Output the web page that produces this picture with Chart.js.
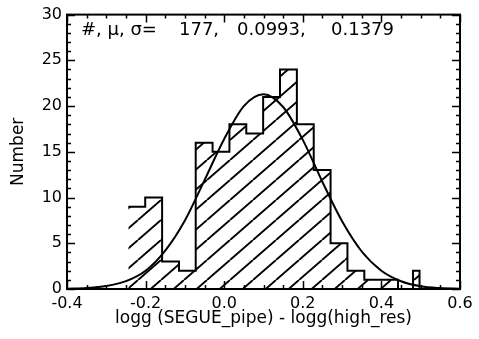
<!DOCTYPE html>
<html><head><meta charset="utf-8">
<script src="https://cdn.jsdelivr.net/npm/chart.js@4"></script>
<style>html,body{margin:0;padding:0;background:#fff;}</style>
</head><body>
<canvas id="c" width="479" height="339"></canvas>
<script>
// Histogram bin edges and counts
const binEdges = [-0.244, -0.201, -0.158, -0.115, -0.0725, -0.0296, 0.0133, 0.0562, 0.0991, 0.142, 0.1849, 0.2278, 0.2707, 0.3136, 0.3565, 0.3994, 0.4423, 0.4805, 0.497, 0.53];
const binCounts = [9, 10, 3, 2, 16, 15, 18, 17, 21, 24, 18, 13, 5, 2, 1, 1, 0, 2, 0];
// Gaussian fit curve, read at sample points
const fitX = [-0.40, -0.35, -0.30, -0.25, -0.20, -0.15, -0.10, -0.05, 0.00, 0.05, 0.10, 0.15, 0.20, 0.25, 0.30, 0.35, 0.40, 0.45, 0.50, 0.55, 0.60];
const fitY = [0.03, 0.1, 0.32, 0.86, 2.0, 4.2, 7.5, 11.9, 16.4, 20.0, 21.3, 19.9, 16.3, 11.7, 7.4, 4.1, 2.0, 0.85, 0.3, 0.1, 0.03];
// Axis ticks
const xTickValues = [-0.4, -0.2, 0.0, 0.2, 0.4, 0.6];
const yTickValues = [0, 5, 10, 15, 20, 25, 30];
const statsText = ['#, \u03bc, \u03c3=', '177,', '0.0993,', '0.1379'];
const xTitle = 'logg (SEGUE_pipe) - logg(high_res)';
const yTitle = 'Number';

function makeHatch() {
  const w = 23, h = 20;
  const c = document.createElement('canvas');
  c.width = w; c.height = h;
  const g = c.getContext('2d');
  g.strokeStyle = '#000';
  g.lineWidth = 1.9;
  for (const dx of [-w, 0, w]) {
    g.beginPath(); g.moveTo(dx, h); g.lineTo(dx + w, 0); g.stroke();
  }
  return g.createPattern(c, 'repeat');
}

const histPoints = binEdges.map((e, i) => ({x: e, y: i < binCounts.length ? binCounts[i] : binCounts[binCounts.length - 1]}));
const fitPoints = fitX.map((x, i) => ({x: x, y: fitY[i]}));

const FONT = 'DejaVu Sans';

const framePlugin = {
  id: 'frame',
  afterDraw(chart) {
    const ctx = chart.ctx;
    const a = chart.chartArea;
    const xs = chart.scales.x, ys = chart.scales.y;
    ctx.save();
    ctx.strokeStyle = '#000';
    ctx.lineWidth = 2;
    ctx.strokeRect(a.left, a.top, a.right - a.left, a.bottom - a.top);
    ctx.lineWidth = 1.5;
    ctx.beginPath();
    for (let k = -8; k <= 12; k++) {
      const v = k * 0.05;
      const px = Math.round(xs.getPixelForValue(v)) + 0.5;
      const len = (k % 4 === 0) ? 8 : 4;
      ctx.moveTo(px, a.bottom); ctx.lineTo(px, a.bottom - len);
      ctx.moveTo(px, a.top); ctx.lineTo(px, a.top + len);
    }
    for (let v = 0; v <= 30; v++) {
      const py = Math.round(ys.getPixelForValue(v)) + 0.5;
      const len = (v % 5 === 0) ? 8 : 4;
      ctx.moveTo(a.left, py); ctx.lineTo(a.left + len, py);
      ctx.moveTo(a.right, py); ctx.lineTo(a.right - len, py);
    }
    ctx.stroke();
    ctx.fillStyle = '#000';
    ctx.font = '18px "' + FONT + '"';
    ctx.textBaseline = 'alphabetic';
    ctx.textAlign = 'left';
    const xsPos = [81, 179, 237, 331];
    statsText.forEach((t, i) => ctx.fillText(t, xsPos[i], 35));
    ctx.restore();
  }
};

new Chart(document.getElementById('c'), {
  type: 'line',
  data: {
    datasets: [
      {
        data: histPoints,
        stepped: true,
        borderColor: '#000',
        borderWidth: 2,
        backgroundColor: makeHatch(),
        fill: 'origin',
        pointRadius: 0
      },
      {
        data: fitPoints,
        borderColor: '#000',
        borderWidth: 2,
        cubicInterpolationMode: 'monotone',
        fill: false,
        pointRadius: 0
      }
    ]
  },
  options: {
    responsive: false,
    animation: false,
    devicePixelRatio: 1,
    layout: {padding: {top: 13, right: 19, left: 0, bottom: 0}},
    plugins: {legend: {display: false}, tooltip: {enabled: false}},
    scales: {
      x: {
        type: 'linear',
        min: -0.4, max: 0.6,
        afterBuildTicks: s => { s.ticks = xTickValues.map(v => ({value: v})); },
        afterFit: s => { s.height = 50; },
        grid: {display: false, drawTicks: false},
        border: {display: false},
        ticks: {
          color: '#000', padding: 5, maxRotation: 0,
          font: {family: FONT, size: 16},
          callback: v => (Math.abs(v) < 1e-9 ? 0 : v).toFixed(1)
        },
        title: {display: true, text: xTitle, color: '#000', font: {family: FONT, size: 17}, padding: {top: 0, bottom: 10}}
      },
      y: {
        type: 'linear',
        min: 0, max: 30,
        afterBuildTicks: s => { s.ticks = yTickValues.map(v => ({value: v})); },
        afterFit: s => { s.width = 67; },
        grid: {display: false, drawTicks: false},
        border: {display: false},
        ticks: {color: '#000', padding: 5, font: {family: FONT, size: 16}},
        title: {display: true, text: yTitle, color: '#000', font: {family: FONT, size: 17}, padding: {top: 8, bottom: 0}}
      }
    }
  },
  plugins: [framePlugin]
});
</script>
</body></html>
